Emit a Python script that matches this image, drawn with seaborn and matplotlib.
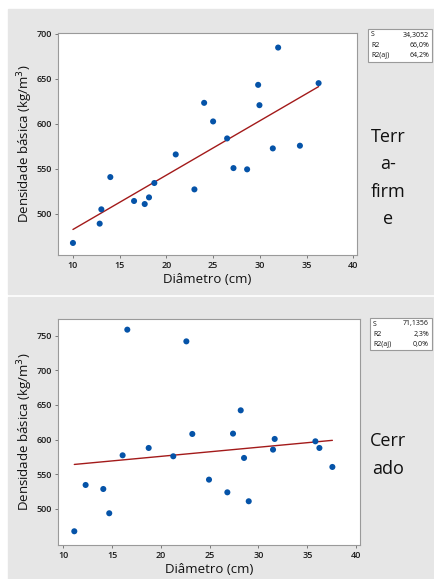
import numpy as np
import matplotlib
matplotlib.use("Agg")
import matplotlib.pyplot as plt
import matplotlib.patches as mpatches
import pandas as pd
import seaborn as sns

# Terra-firme
tf_diam = [10.0, 12.86, 13.04, 14.0, 16.54, 17.68, 18.14, 18.71, 21.0, 23.0, 24.04,
           25.0, 26.5, 27.18, 28.64, 29.82, 29.96, 31.39, 31.96, 34.29, 36.29]
tf_dens = [467.4, 488.9, 504.8, 540.7, 514.1, 510.7, 518.1, 534.1, 565.9, 527.0, 623.3,
           602.6, 583.7, 550.7, 549.3, 643.3, 620.7, 572.6, 684.8, 575.6, 645.2]

# Cerrado
ce_diam = [11.13, 12.29, 14.10, 14.71, 16.08, 16.56, 18.75, 21.27, 22.61, 23.22, 24.93,
           26.81, 27.39, 28.18, 28.52, 29.0, 31.49, 31.66, 35.83, 36.24, 37.57]
ce_dens = [467.8, 534.6, 528.8, 493.8, 577.4, 758.7, 588.0, 576.0, 741.8, 608.2, 542.3,
           524.0, 608.7, 642.3, 573.6, 511.1, 585.6, 601.0, 597.6, 588.0, 560.6]

tf_stats = [("S", "34,3052"), ("R2", "66,0%"), ("R2(aj)", "64,2%")]
ce_stats = [("S", "71,1356"), ("R2", "2,3%"), ("R2(aj)", "0,0%")]

sns.set_style("white")
plt.rcParams['font.family'] = ['Open Sans', 'DejaVu Sans']

fig = plt.figure(figsize=(4.35, 5.79), dpi=100)
W, H = 435, 579
panel_col = "#e6e6e6"
# painéis cinza (estilo Minitab)
fig.patches.append(mpatches.Rectangle((8 / W, 1 - 294 / H), 1 - 8 / W, 285 / H,
                                      transform=fig.transFigure, color=panel_col, zorder=-10))
fig.patches.append(mpatches.Rectangle((8 / W, 0), 1 - 8 / W, 1 - 297 / H,
                                      transform=fig.transFigure, color=panel_col, zorder=-10))

configs = [
    dict(x=tf_diam, y=tf_dens, stats=tf_stats, label="Terr\na-\nfirm\ne",
         rect=[58 / W, 1 - 255 / H, 299 / W, 222 / H], xlim=(8.4, 40.4), ylim=(454, 701),
         yticks=[500, 550, 600, 650, 700], box=(368, 29, 64, 33), lab_y=178),
    dict(x=ce_diam, y=ce_dens, stats=ce_stats, label="Cerr\nado",
         rect=[58 / W, 1 - 545 / H, 302 / W, 226.3 / H], xlim=(9.46, 40.4), ylim=(448, 774.5),
         yticks=[500, 550, 600, 650, 700, 750], box=(370, 318, 62, 32), lab_y=455),
]

for c in configs:
    ax = fig.add_axes(c["rect"])
    ax.set_facecolor("white")
    df = pd.DataFrame({"d": c["x"], "p": c["y"]})
    sns.regplot(data=df, x="d", y="p", ax=ax, ci=None, truncate=True,
                scatter_kws=dict(s=19, color="#0553a8", alpha=1, edgecolor="none", zorder=3),
                line_kws=dict(color="#a31a1a", lw=1.0))
    ax.set_xlim(*c["xlim"])
    ax.set_ylim(*c["ylim"])
    ax.set_xticks([10, 15, 20, 25, 30, 35, 40])
    ax.set_yticks(c["yticks"])
    ax.tick_params(axis="both", labelsize=6.5, length=2.5, width=0.6, color="#666666",
                   labelcolor="#1a1a1a", direction="out", bottom=True, left=True, pad=2)
    for lab in ax.get_xticklabels() + ax.get_yticklabels():
        lab.set_fontweight("semibold")
    for sp in ax.spines.values():
        sp.set_color("#9a9a9a")
        sp.set_linewidth(0.8)
    ax.set_xlabel("Diâmetro (cm)", fontsize=9.5, color="#111111", labelpad=2)
    ax.set_ylabel("Densidade básica (kg/m$^3$)", fontsize=9.5, color="#111111", labelpad=1)

    # caixa de estatísticas
    bx, by, bw, bh = c["box"]
    fig.patches.append(mpatches.Rectangle((bx / W, 1 - (by + bh) / H), bw / W, bh / H,
                                          transform=fig.transFigure, facecolor="white",
                                          edgecolor="#9a9a9a", lw=0.8, zorder=2))
    for i, (k, v) in enumerate(c["stats"]):
        yy = 1 - (by + 6 + i * 10.3) / H
        fig.text((bx + 3) / W, yy, k, fontsize=5, va="center", ha="left", color="#111111")
        fig.text((bx + bw - 3) / W, yy, v, fontsize=5, va="center", ha="right", color="#111111")

    fig.text(388 / W, 1 - c["lab_y"] / H, c["label"], fontsize=13, ha="center", va="center",
             linespacing=1.65, color="#111111")

fig.savefig("out.png", dpi=100)
